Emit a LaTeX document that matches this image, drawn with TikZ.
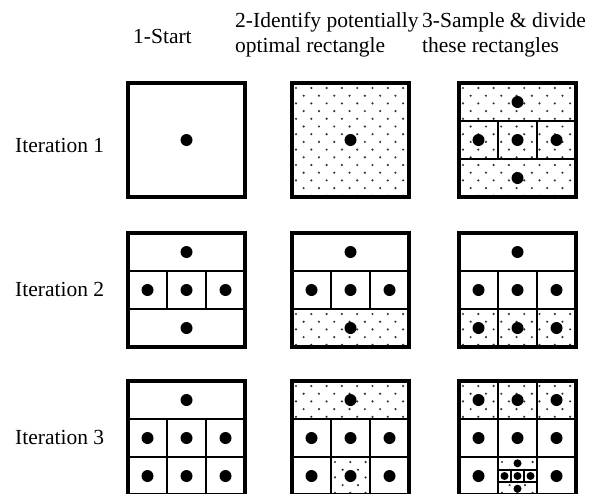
\documentclass[tikz,border=0pt]{standalone}
\usepackage{fontspec}
\setmainfont{Liberation Serif}
\usetikzlibrary{calc}
\tikzset{
  box/.style={line width=3.2pt},
  split/.style={line width=2.8pt},
  subsplit/.style={line width=1.8pt},
  speck/.style={fill=black!80},
  lbl/.style={inner sep=0pt, font=\fontsize{21.5}{25}\selectfont},
}
\newcommand{\speckle}[4]{%
  \begin{scope}
    \clip (#1,#2) rectangle (#3,#4);
    \foreach \j in {0,...,15}
      \foreach \i in {0,...,8}
        \fill[speck] ({#1+4+15.3*\i+7.65*mod(\j,2)},{#2+5+7.7*\j}) circle (1.2pt);
  \end{scope}}
\newcommand{\sample}[2]{\fill (#1,#2) circle (6pt);}
\newcommand{\subsample}[2]{\fill (#1,#2) circle (4pt);}
\newcommand{\thirds}{%
  \draw[split] (0,38) -- (117,38) (0,76) -- (117,76) (39,38) -- (39,76) (78,38) -- (78,76);}
\newcommand{\fivedots}{%
  \sample{58.5}{19} \sample{19.5}{57} \sample{58.5}{57} \sample{97.5}{57} \sample{58.5}{95}}

\begin{document}
\begin{tikzpicture}[x=1pt,y=-1pt]
\useasboundingbox (0,0) rectangle (594,493);
\clip (0,0) rectangle (594,493);

\node[lbl, anchor=base west] (start) at (133,43) {1-Start};
\node[lbl, anchor=base west, align=left] (identify) at (235,52) {2-Identify potentially\\optimal rectangle};
\node[lbl, anchor=base west, align=left] (divide) at (422,52) {3-Sample \& divide\\these rectangles};
\foreach \k/\y in {1/152.5, 2/296.5, 3/444}
  \node[lbl, anchor=base west] (iter\k) at (15,\y) {Iteration \k};

% iteration 1
\begin{scope}[shift={(128,83)}]
  \draw[box] (0,0) rectangle (117,114);
  \sample{58.5}{57}
\end{scope}
\begin{scope}[shift={(292,83)}]
  \speckle{0}{0}{117}{114}
  \draw[box] (0,0) rectangle (117,114);
  \sample{58.5}{57}
\end{scope}
\begin{scope}[shift={(459,83)}]
  \speckle{0}{0}{117}{114}
  \thirds
  \draw[box] (0,0) rectangle (117,114);
  \fivedots
\end{scope}

% iteration 2
\begin{scope}[shift={(128,233)}]
  \thirds
  \draw[box] (0,0) rectangle (117,114);
  \fivedots
\end{scope}
\begin{scope}[shift={(292,233)}]
  \speckle{0}{76}{117}{114}
  \thirds
  \draw[box] (0,0) rectangle (117,114);
  \fivedots
\end{scope}
\begin{scope}[shift={(459,233)}]
  \speckle{0}{76}{117}{114}
  \thirds
  \draw[split] (39,76) -- (39,114) (78,76) -- (78,114);
  \draw[box] (0,0) rectangle (117,114);
  \fivedots \sample{19.5}{95} \sample{97.5}{95}
\end{scope}

% iteration 3
\begin{scope}[shift={(128,381)}]
  \thirds
  \draw[split] (39,76) -- (39,114) (78,76) -- (78,114);
  \draw[box] (0,0) rectangle (117,114);
  \fivedots \sample{19.5}{95} \sample{97.5}{95}
\end{scope}
\begin{scope}[shift={(292,381)}]
  \speckle{0}{0}{117}{38}
  \speckle{39}{76}{78}{114}
  \thirds
  \draw[split] (39,76) -- (39,114) (78,76) -- (78,114);
  \draw[box] (0,0) rectangle (117,114);
  \fivedots \sample{19.5}{95} \sample{97.5}{95}
\end{scope}
\begin{scope}[shift={(459,381)}]
  \speckle{0}{0}{117}{38}
  \speckle{39}{76}{78}{114}
  \draw[split] (0,38) -- (117,38) (0,76) -- (117,76) (39,0) -- (39,114) (78,0) -- (78,114);
  \draw[subsplit] (39,88.7) rectangle (78,101.3) (52,88.7) -- (52,101.3) (65,88.7) -- (65,101.3);
  \draw[box] (0,0) rectangle (117,114);
  \foreach \x in {19.5,58.5,97.5} {\sample{\x}{19} \sample{\x}{57}}
  \sample{19.5}{95} \sample{97.5}{95}
  \subsample{58.5}{82.3} \subsample{58.5}{107.7}
  \foreach \x in {45.5,58.5,71.5} {\subsample{\x}{95}}
\end{scope}
\end{tikzpicture}
\end{document}
